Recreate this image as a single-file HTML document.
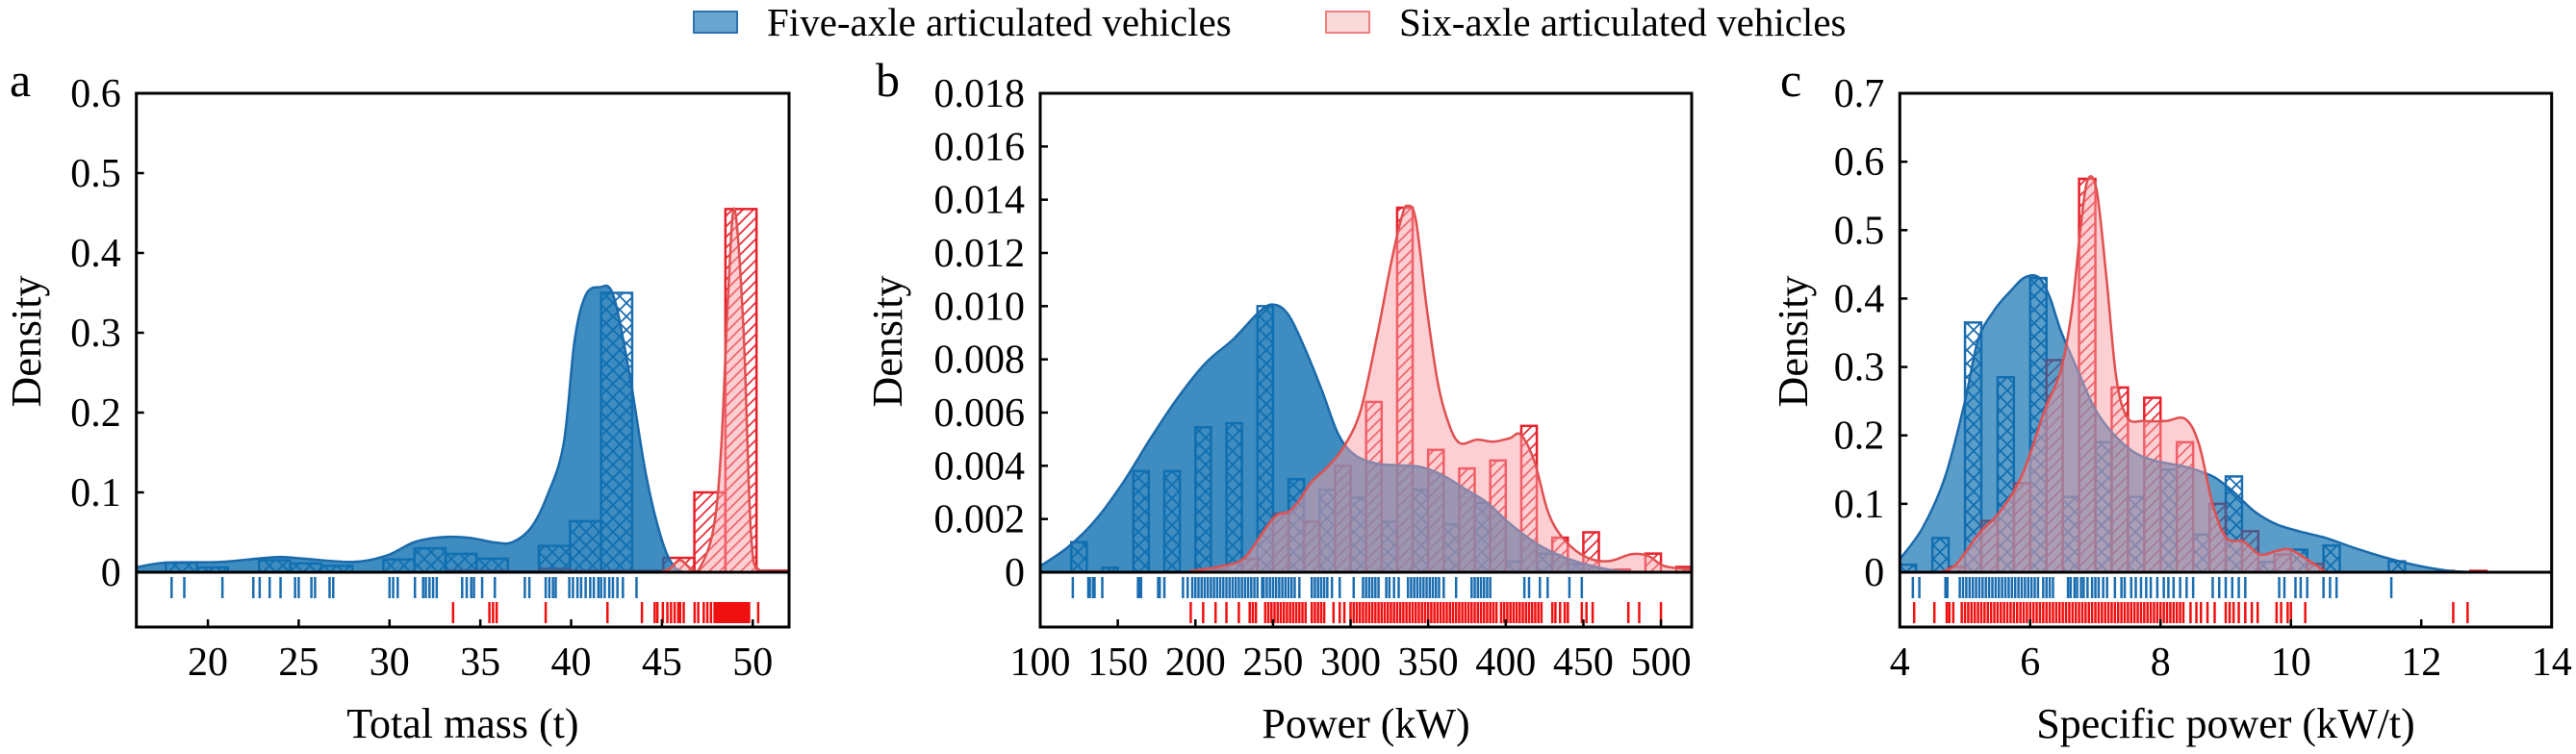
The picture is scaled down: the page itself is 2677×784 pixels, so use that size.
<!DOCTYPE html>
<html><head><meta charset="utf-8">
<style>
html,body{margin:0;padding:0;background:#fff;}
svg{display:block;font-family:"Liberation Serif",serif;}
</style></head>
<body>
<svg id="fig" width="2677" height="784" viewBox="0 0 2677 784" xmlns="http://www.w3.org/2000/svg">
<defs>
<pattern id="xhatch" patternUnits="userSpaceOnUse" width="14" height="14">
<path d="M0,0 L14,14 M14,0 L0,14" stroke="#1a6db0" stroke-width="1.8" fill="none"/>
</pattern>
<pattern id="rhatch" patternUnits="userSpaceOnUse" width="11" height="11">
<path d="M-2,13 L13,-2 M-2,2 L2,-2 M9,13 L13,9" stroke="#e8303a" stroke-width="1.8" fill="none"/>
</pattern>
</defs>
<g>
<rect x="721" y="12" width="45" height="22" fill="#6aa6d0" stroke="#2a72b0" stroke-width="2"/>
<text x="797" y="37" font-size="41">Five-axle articulated vehicles</text>
<rect x="1378" y="12" width="45" height="22" fill="#fadada" stroke="#f08080" stroke-width="2"/>
<text x="1454" y="37" font-size="41">Six-axle articulated vehicles</text>
</g>
</svg>
<script>
// ---------- Panel a data ----------
const aBinEdgesStart = 17.68, aBinWidth = 1.712;
const aBlueHist = [0.012,0.006,0,0.015,0.011,0.008,0,0.016,0.030,0.023,0.017,0,0.033,0.064,0.35,0,0,0,0,0];
const aRedHist  = [0,0,0,0,0,0,0,0,0,0.002,0.002,0.001,0.004,0.002,0.002,0.002,0.018,0.1,0.455,0.002];
const aBlueKdeX = [16.0,17.68,20.72,23.76,25.28,28.0,29.85,31.4,32.9,34.4,35.9,36.8,37.8,38.67,39.58,40.19,40.8,41.56,42.32,43.23,44.14,45.06,45.8,46.5];
const aBlueKdeY = [0.006,0.012,0.013,0.019,0.017,0.013,0.021,0.038,0.044,0.043,0.037,0.038,0.056,0.095,0.16,0.29,0.347,0.357,0.347,0.246,0.12,0.036,0.004,0];
const aRedKdeX = [44.8,45.4,46.0,46.6,47.0,47.8,48.25,48.65,49.0,49.5,49.9,50.4,52.0];
const aRedKdeY = [0,0.004,0.015,0.004,0.002,0.05,0.15,0.35,0.455,0.3,0.05,0.002,0.001];
const aBlueRug = [18.0,18.7,20.8,22.5,22.85,23.4,24.0,24.8,25.0,25.7,25.9,26.7,26.9,30.0,30.2,30.45,31.4,31.85,32.0,32.2,32.4,32.6,34.0,34.25,34.5,34.65,35.1,35.8,37.45,37.7,38.6,38.8,39.0,39.15,39.9,40.1,40.35,40.55,40.8,41.05,41.25,41.5,41.65,41.85,42.1,42.3,42.55,42.85,43.6];
const aRedRug = [33.5,35.5,35.7,35.9,38.6,42.0,43.9,44.6,44.75,45.05,45.3,45.5,45.7,45.9,46.0,46.2,46.8,47.0,47.3,47.5,47.7,47.9,48.0,48.1,48.2,48.3,48.4,48.5,48.6,48.7,48.8,48.9,49.0,49.1,49.2,49.3,49.4,49.5,49.6,49.7,49.8,50.3];
const aXTicks = [20,25,30,35,40,45,50];
const aYTicks = [0,0.1,0.2,0.3,0.4,0.5,0.6];
const aYTickLabels = ["0","0.1","0.2","0.3","0.4","0.5","0.6"];

// ---------- Panel b data ----------
const bBinStart = 120, bBinWidth = 20;
const bBlueHist = [0.00113,0.00017,0.0038,0.0038,0.00545,0.0056,0.0100,0.0035,0.0031,0.0028,0.0019,0.0031,0.0018,0.0026,0.0004,0.0007,0.0003,0,0,0];
const bRedHist  = [0,0,0,0,0.0001,0.0005,0.0022,0.0019,0.004,0.0064,0.0137,0.0046,0.0039,0.0042,0.0055,0.0013,0.0015,0.0001,0.0007,0.0002];
const bBlueKdeX = [100,117.8,135.6,153.4,171.2,188.9,206.7,224.5,242.3,251.2,260.1,270.8,281.5,292.2,302.9,317.1,331.3,345.6,359.8,374.1,388.3,402.6,420.3,438.2,456.0,473.8,500];
const bBlueKdeY = [0.00023,0.00094,0.00196,0.00337,0.00504,0.00658,0.00787,0.00876,0.00985,0.01005,0.00966,0.00838,0.00684,0.00517,0.0044,0.00408,0.00402,0.00395,0.00363,0.00312,0.0026,0.00183,0.00106,0.00055,0.00023,0.00004,0];
const bRedKdeX = [196.1,217.4,231.7,245.9,253.0,260.1,267.3,274.4,285.1,295.7,306.4,317.1,326.0,333.1,336.7,342.0,349.1,356.3,363.4,370.5,381.2,391.9,402.6,409.7,418.6,427.5,438.2,452.4,466.6,480.9,491.6,502.2,520];
const bRedKdeY = [0.00004,0.00023,0.00055,0.00171,0.00216,0.00228,0.00273,0.00337,0.00395,0.00472,0.00607,0.00889,0.01159,0.01338,0.01377,0.01325,0.00992,0.0071,0.00556,0.00485,0.00498,0.00491,0.00504,0.00517,0.00414,0.00222,0.00119,0.00055,0.00042,0.00068,0.00062,0.00023,0.0001];
const bBlueRug = [121,131,132,134,135,140,163,164,165,176,177,180,192,195,198,200,202,204,206,208,210,212,214,216,218,220,222,224,226,228,230,232,234,236,238,240,243,244,246,248,250,252,254,256,258,260,262,264,267,275,277,279,281,283,285,288,293,302,308,310,312,314,316,318,323,325,328,331,337,339,341,343,345,347,349,351,353,355,357,360,368,378,380,382,384,386,388,390,412,415,422,427,441,449];
const bRedRug = [197,205,213,220,228,235,237,239,245,247,249,251,253,255,257,259,261,263,265,267,269,271,275,277,279,281,283,289,293,296,300,302,304,306,308,310,312,314,316,318,320,322,324,326,328,330,332,334,336,338,340,342,344,346,348,350,352,354,356,358,360,362,364,366,368,370,372,374,376,378,380,382,384,386,388,390,392,394,397,399,401,403,405,407,409,411,413,415,417,419,421,423,430,432,435,438,440,449,452,456,479,486,500];
const bXTicks = [100,150,200,250,300,350,400,450,500];
const bYTicks = [0,0.002,0.004,0.006,0.008,0.010,0.012,0.014,0.016,0.018];
const bYTickLabels = ["0","0.002","0.004","0.006","0.008","0.010","0.012","0.014","0.016","0.018"];

// ---------- Panel c data ----------
const cBinStart = 4, cBinWidth = 0.5;
const cBlueHist = [0.011,0.05,0.365,0.285,0.43,0.11,0.19,0.11,0.15,0.055,0.14,0.015,0.033,0.039,0,0.016,0,0,0,0];
const cRedHist  = [0,0.008,0.075,0.13,0.31,0.575,0.27,0.255,0.19,0.1,0.06,0.026,0.012,0,0,0,0.002,0.002,0,0];
const cBlueKdeX = [4.0,4.35,4.69,4.99,5.2,5.45,5.71,5.92,6.13,6.3,6.47,6.73,6.98,7.23,7.57,7.91,8.34,8.59,8.84,9.1,9.44,9.78,10.12,10.54,10.96,11.47,11.98,12.49,13.0];
const cBlueKdeY = [0.019,0.065,0.138,0.246,0.339,0.383,0.412,0.431,0.431,0.402,0.353,0.295,0.241,0.207,0.177,0.163,0.155,0.148,0.138,0.119,0.089,0.07,0.06,0.05,0.036,0.021,0.009,0.0015,0];
const cRedKdeX = [4.61,4.86,5.2,5.54,5.88,6.22,6.47,6.64,6.77,6.88,7.02,7.17,7.32,7.49,7.74,8.08,8.38,8.59,8.8,9.01,9.27,9.52,9.78,9.99,10.29,10.54];
const cRedKdeY = [0,0.011,0.055,0.089,0.143,0.236,0.295,0.383,0.5,0.573,0.558,0.431,0.285,0.226,0.221,0.221,0.224,0.187,0.099,0.05,0.045,0.026,0.031,0.033,0.016,0];
const cBlueRug = [4.2,4.3,4.7,4.73,4.92,4.97,5.02,5.07,5.12,5.17,5.22,5.27,5.32,5.37,5.42,5.47,5.52,5.57,5.62,5.67,5.72,5.77,5.82,5.87,5.92,5.97,6.02,6.07,6.12,6.2,6.25,6.3,6.35,6.58,6.62,6.68,6.72,6.78,6.82,6.88,6.95,7.0,7.05,7.12,7.18,7.3,7.4,7.45,7.55,7.62,7.7,7.78,7.85,7.95,8.05,8.12,8.2,8.3,8.4,8.5,8.8,8.9,9.0,9.1,9.2,9.3,9.82,9.9,10.07,10.15,10.25,10.5,10.6,10.7,11.54];
const cRedRug = [4.22,4.53,4.72,4.76,4.82,4.95,5.0,5.05,5.1,5.15,5.2,5.25,5.3,5.35,5.4,5.45,5.5,5.55,5.6,5.65,5.7,5.75,5.8,5.85,5.9,5.95,6.0,6.05,6.1,6.15,6.2,6.25,6.3,6.35,6.4,6.45,6.5,6.55,6.6,6.65,6.7,6.75,6.8,6.85,6.9,6.95,7.0,7.05,7.1,7.15,7.2,7.25,7.3,7.35,7.4,7.45,7.5,7.55,7.6,7.65,7.7,7.75,7.8,7.85,7.9,7.95,8.0,8.05,8.1,8.15,8.2,8.25,8.3,8.35,8.46,8.55,8.62,8.72,8.83,9.0,9.06,9.12,9.2,9.3,9.4,9.49,9.78,9.85,9.95,10.0,10.22,12.49,12.71];
const cXTicks = [4,6,8,10,12,14];
const cYTicks = [0,0.1,0.2,0.3,0.4,0.5,0.6,0.7];
const cYTickLabels = ["0","0.1","0.2","0.3","0.4","0.5","0.6","0.7"];

const NS = "http://www.w3.org/2000/svg";
const svg = document.getElementById("fig");
const TOP = 97, ZERO = 595, BOTTOM = 652;

function mk(tag, attrs, parent) {
  const e = document.createElementNS(NS, tag);
  for (const k in attrs) e.setAttribute(k, attrs[k]);
  parent.appendChild(e);
  return e;
}

// smooth path through points (Catmull-Rom -> cubic Bezier), clamped to the baseline
function smoothPath(pts) {
  let d = "";
  for (let i = 0; i < pts.length - 1; i++) {
    const p0 = pts[Math.max(i - 1, 0)], p1 = pts[i], p2 = pts[i + 1], p3 = pts[Math.min(i + 2, pts.length - 1)];
    const c1x = p1[0] + (p2[0] - p0[0]) / 6, c1y = Math.min(ZERO, p1[1] + (p2[1] - p0[1]) / 6);
    const c2x = p2[0] - (p3[0] - p1[0]) / 6, c2y = Math.min(ZERO, p2[1] - (p3[1] - p1[1]) / 6);
    d += " C" + c1x.toFixed(1) + "," + c1y.toFixed(1) + " " + c2x.toFixed(1) + "," + c2y.toFixed(1) + " " + p2[0].toFixed(1) + "," + p2[1].toFixed(1);
  }
  return d;
}

function panel(p) {
  const g = mk("g", {}, svg);
  
  
  const xs = v => p.x0 + (v - p.xmin) / (p.xmax - p.xmin) * (p.x1 - p.x0);
  const ys = v => ZERO - v / p.ymax * (ZERO - TOP);

  const barsG = mk("g", {}, g);
  
  
  function bars(hist, series) {
    hist.forEach((v, i) => {
      if (v <= 0) return;
      let s = p.binStart + i * p.binWidth, e = s + p.binWidth;
      if (p.split) { if (series === "blue") e = s + p.binWidth / 2; else s = s + p.binWidth / 2; }
      const r = mk("rect", {x: xs(s), y: ys(v), width: xs(e) - xs(s), height: ZERO - ys(v),
        fill: series === "blue" ? "url(#xhatch)" : "url(#rhatch)",
        stroke: series === "blue" ? "#1a6db0" : "#e8202a", "stroke-width": 2.5}, barsG);
      
      
    });
  }
  bars(p.blueHist, "blue");
  bars(p.redHist, "red");

  function area(X, Y, fill, stroke, name) {
    const pts = X.map((x, i) => [xs(x), ys(Y[i])]);
    const curve = smoothPath(pts);
    const d = "M" + pts[0][0] + "," + ZERO + " L" + pts[0][0] + "," + pts[0][1] + curve + " L" + pts[pts.length - 1][0] + "," + ZERO + " Z";
    const a = mk("path", {d: d, fill: fill}, g);
    
    
    const ln = mk("path", {d: "M" + pts[0][0] + "," + pts[0][1] + curve, fill: "none", stroke: stroke, "stroke-width": 2.5, "stroke-linejoin": "round"}, g);
    
    
  }
  area(p.bkx, p.bky, p.blueFill, "#1a6aab", "kde-five-axle");
  area(p.rkx, p.rky, "rgba(250,160,165,0.5)", "#e05050", "kde-six-axle");

  function rug(vals, y0, y1, col, name) {
    const rg = mk("g", {}, g);
    
    
    vals.forEach(v => {
      mk("line", {x1: xs(v), x2: xs(v), y1: y0, y2: y1, stroke: col, "stroke-width": 2.5}, rg);
    });
  }
  rug(p.blueRug, 600, 622, "#1a6db0", "rug-five-axle");
  rug(p.redRug, 626, 648, "#f01010", "rug-six-axle");

  const z = mk("line", {x1: p.x0, x2: p.x1, y1: ZERO, y2: ZERO, stroke: "#000", "stroke-width": 3}, g);
  
  
  const f = mk("rect", {x: p.x0, y: TOP, width: p.x1 - p.x0, height: BOTTOM - TOP, fill: "none", stroke: "#000", "stroke-width": 3}, g);
  
  

  p.yTicks.forEach((v, i) => {
    mk("line", {x1: p.x0, x2: p.x0 + 8, y1: ys(v), y2: ys(v), stroke: "#000", "stroke-width": 2.5}, g);
    const t = mk("text", {x: p.x0 - 16, y: ys(v) + 14, "font-size": 42, "text-anchor": "end"}, g);
    t.textContent = p.yLabels[i];
    
    
  });
  p.xTicks.forEach(v => {
    mk("line", {x1: xs(v), x2: xs(v), y1: BOTTOM, y2: BOTTOM - 8, stroke: "#000", "stroke-width": 2.5}, g);
    const t = mk("text", {x: xs(v), y: 702, "font-size": 42, "text-anchor": "middle"}, g);
    t.textContent = String(v);
    
    
  });
  const xt = mk("text", {x: (p.x0 + p.x1) / 2, y: 767, "font-size": 44, "text-anchor": "middle"}, g);
  xt.textContent = p.xTitle;
  
  
  const yt = mk("text", {x: 0, y: 0, "font-size": 44, "text-anchor": "middle", transform: "translate(" + p.yTitleX + ",355) rotate(-90)"}, g);
  yt.textContent = "Density";
  
  
  const lt = mk("text", {x: p.letterX, y: 100, "font-size": 50}, g);
  lt.textContent = p.id;
  
  
}

panel({id: "a", x0: 141.7, x1: 820, xmin: 16.06, xmax: 52.0, ymax: 0.6,
  binStart: aBinEdgesStart, binWidth: aBinWidth, split: false,
  blueHist: aBlueHist, redHist: aRedHist, bkx: aBlueKdeX, bky: aBlueKdeY, rkx: aRedKdeX, rky: aRedKdeY,
  blueRug: aBlueRug, redRug: aRedRug, xTicks: aXTicks, yTicks: aYTicks, yLabels: aYTickLabels,
  blueFill: "rgba(14,111,176,0.8)", xTitle: "Total mass (t)", yTitleX: 42, letterX: 10});
panel({id: "b", x0: 1081, x1: 1758, xmin: 100, xmax: 519.8, ymax: 0.018,
  binStart: bBinStart, binWidth: bBinWidth, split: true,
  blueHist: bBlueHist, redHist: bRedHist, bkx: bBlueKdeX, bky: bBlueKdeY, rkx: bRedKdeX, rky: bRedKdeY,
  blueRug: bBlueRug, redRug: bRedRug, xTicks: bXTicks, yTicks: bYTicks, yLabels: bYTickLabels,
  blueFill: "rgba(14,111,176,0.8)", xTitle: "Power (kW)", yTitleX: 937, letterX: 910});
panel({id: "c", x0: 1974.3, x1: 2651.7, xmin: 4, xmax: 14, ymax: 0.7,
  binStart: cBinStart, binWidth: cBinWidth, split: true,
  blueHist: cBlueHist, redHist: cRedHist, bkx: cBlueKdeX, bky: cBlueKdeY, rkx: cRedKdeX, rky: cRedKdeY,
  blueRug: cBlueRug, redRug: cRedRug, xTicks: cXTicks, yTicks: cYTicks, yLabels: cYTickLabels,
  blueFill: "rgba(14,111,176,0.68)", xTitle: "Specific power (kW/t)", yTitleX: 1878, letterX: 1850});
</script>
</body></html>
